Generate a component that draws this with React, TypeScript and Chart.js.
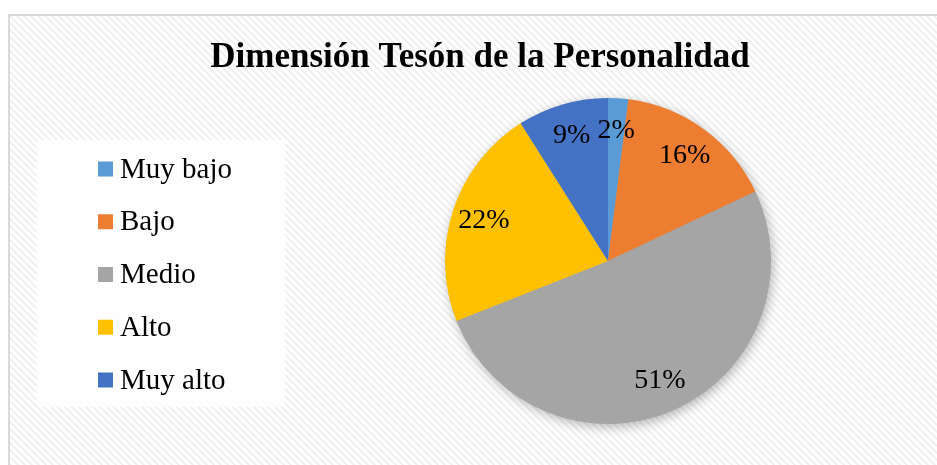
import React, { useEffect, useRef } from "react";
import { Chart, registerables } from "chart.js";

Chart.register(...registerables);

const TITLE = "Dimensión Tesón de la Personalidad";
const categories = ["Muy bajo", "Bajo", "Medio", "Alto", "Muy alto"];
const values = [2, 16, 51, 22, 9];
const colors = ["#5B9BD5", "#ED7D31", "#A5A5A5", "#FFC000", "#4472C4"];

const SERIF = "'Liberation Serif', 'Times New Roman', 'DejaVu Serif', serif";

function makePattern(ctx: CanvasRenderingContext2D) {
  const c = document.createElement("canvas");
  const s = 7;
  c.width = s;
  c.height = s;
  const p = c.getContext("2d")!;
  p.fillStyle = "#ffffff";
  p.fillRect(0, 0, s, s);
  p.strokeStyle = "#f0f0f0";
  p.lineWidth = 2;
  for (const off of [-s, 0, s]) {
    p.beginPath();
    p.moveTo(off - 1, -1);
    p.lineTo(off + s + 1, s + 1);
    p.stroke();
  }
  return ctx.createPattern(c, "repeat");
}

const bgPlugin = {
  id: "bgPlugin",
  beforeDraw(chart: any) {
    const ctx = chart.ctx as CanvasRenderingContext2D;
    ctx.save();
    ctx.fillStyle = makePattern(ctx) || "#fff";
    ctx.fillRect(0, 0, chart.width, chart.height);
    ctx.font = `bold 35px ${SERIF}`;
    ctx.fillStyle = "#000";
    ctx.textAlign = "center";
    ctx.textBaseline = "middle";
    ctx.fillText(TITLE, chart.width / 2, 42);
    ctx.restore();
  },
};

const shadowPlugin = {
  id: "shadowPlugin",
  beforeDatasetsDraw(chart: any) {
    const meta = chart.getDatasetMeta(0);
    const arc = meta.data[0];
    if (!arc) return;
    const ctx = chart.ctx as CanvasRenderingContext2D;
    ctx.save();
    ctx.shadowColor = "rgba(0,0,0,0.3)";
    ctx.shadowBlur = 12;
    ctx.shadowOffsetX = 2;
    ctx.shadowOffsetY = 3;
    ctx.fillStyle = "#a5a5a5";
    ctx.beginPath();
    ctx.arc(arc.x, arc.y, arc.outerRadius - 0.5, 0, Math.PI * 2);
    ctx.fill();
    ctx.restore();
  },
};

const labelPlugin = {
  id: "labelPlugin",
  afterDatasetsDraw(chart: any) {
    const meta = chart.getDatasetMeta(0);
    const ctx = chart.ctx as CanvasRenderingContext2D;
    const data = chart.data.datasets[0].data as number[];
    ctx.save();
    ctx.font = `28px ${SERIF}`;
    ctx.fillStyle = "#000";
    ctx.textAlign = "center";
    ctx.textBaseline = "middle";
    meta.data.forEach((arc: any, i: number) => {
      const mid = (arc.startAngle + arc.endAngle) / 2;
      const r = arc.outerRadius * 0.8;
      const x = arc.x + Math.cos(mid) * r;
      const y = arc.y + Math.sin(mid) * r;
      ctx.fillText(`${data[i]}%`, x, y);
    });
    ctx.restore();
  },
};

const legendPlugin = {
  id: "customLegend",
  afterDraw(chart: any) {
    const ctx = chart.ctx as CanvasRenderingContext2D;
    const labels = chart.data.labels as string[];
    const bg = chart.data.datasets[0].backgroundColor as string[];
    ctx.save();
    ctx.fillStyle = "rgba(255,255,255,0.85)";
    ctx.fillRect(27, 124, 248, 267);
    ctx.font = `29px ${SERIF}`;
    ctx.textBaseline = "middle";
    ctx.textAlign = "left";
    labels.forEach((lab, i) => {
      const cy = 153 + i * 52.75;
      ctx.fillStyle = bg[i];
      ctx.fillRect(88, cy - 7.5, 15, 15);
      ctx.fillStyle = "#000";
      ctx.fillText(lab, 110, cy + 1);
    });
    ctx.restore();
  },
};

export default function App() {
  const ref = useRef<HTMLCanvasElement | null>(null);
  useEffect(() => {
    if (!ref.current) return;
    const chart = new Chart(ref.current, {
      type: "pie",
      data: {
        labels: categories,
        datasets: [
          {
            data: values,
            backgroundColor: colors,
            borderWidth: 0,
          },
        ],
      },
      options: {
        animation: false,
        responsive: false,
        maintainAspectRatio: false,
        layout: { padding: { left: 400, right: 144, top: 82, bottom: 41 } },
        plugins: {
          legend: { display: false },
          tooltip: { enabled: false },
          title: { display: false },
        },
      },
      plugins: [bgPlugin, shadowPlugin, labelPlugin, legendPlugin],
    });
    return () => chart.destroy();
  }, []);
  return (
    <div
      style={{
        position: "absolute",
        left: 8,
        top: 14,
        borderTop: "2px solid #d9d9d9",
        borderLeft: "2px solid #d9d9d9",
        width: 940,
        height: 449,
      }}
    >
      <canvas ref={ref} width={940} height={449} style={{ display: "block", width: 940, height: 449 }} />
    </div>
  );
}
